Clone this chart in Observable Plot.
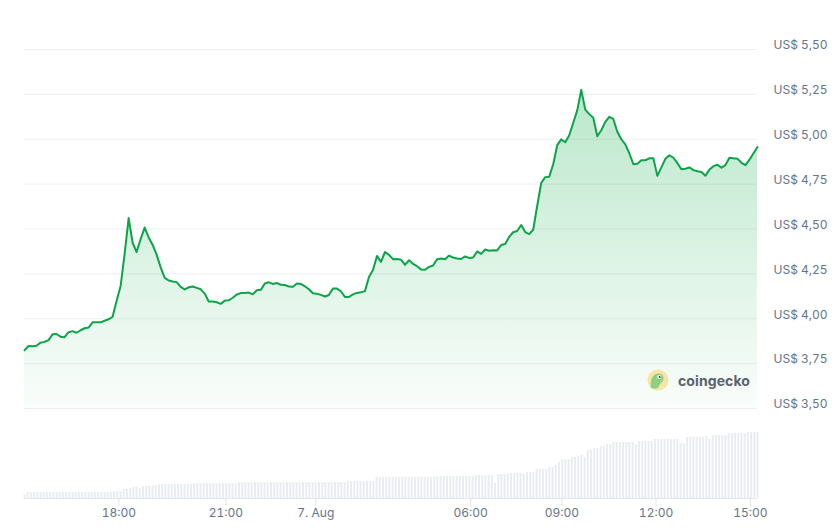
<!DOCTYPE html>
<html><head><meta charset="utf-8">
<script src="https://cdn.jsdelivr.net/npm/d3@7"></script>
<script src="https://cdn.jsdelivr.net/npm/@observablehq/plot@0.6"></script>
<style>
body{margin:0;background:#fff;font-family:Inter,"Noto Sans",sans-serif;}
#wrap{position:relative;width:837px;height:530px;overflow:hidden;background:#fff}
#price{position:absolute;left:0;top:0}
#vol{position:absolute;left:0;top:420px}
#wm{position:absolute;left:647px;top:369px;display:flex;align-items:center;gap:9px;height:22px}
#wm span{font-family:Inter,sans-serif;font-weight:700;font-size:14px;color:#5b616d;letter-spacing:0.1px}
</style></head>
<body>
<div id="wrap">
  <div id="price"></div>
  <div id="vol"></div>
  <div id="wm">
    <svg width="22" height="22" viewBox="0 0 22 22">
      <circle cx="11" cy="11" r="10.5" fill="#f8e4a6"/>
      <path d="M4 19 C3 12 5 5 11 4.5 C15 4.3 17 7 16.5 10 C16 13 13 14 12 17 C11.5 19 9 20.5 4 19 Z" fill="#8dd07e"/>
      <circle cx="12.2" cy="8" r="2" fill="#fff"/>
      <circle cx="12.6" cy="8" r="1" fill="#3a3f47"/>
    </svg>
    <span>coingecko</span>
  </div>
</div>
<script>
// Price (US$), evenly spaced samples over the 24h window
const priceValues = [
  3.824, 3.848, 3.847, 3.850, 3.867, 3.871, 3.881, 3.913, 3.915, 3.900,
  3.897, 3.925, 3.931, 3.922, 3.936, 3.947, 3.951, 3.980, 3.980, 3.980,
  3.989, 3.997, 4.011, 4.100, 4.183, 4.361, 4.561, 4.422, 4.372, 4.444,
  4.508, 4.453, 4.411, 4.356, 4.286, 4.228, 4.213, 4.208, 4.204, 4.178,
  4.163, 4.175, 4.180, 4.172, 4.164, 4.140, 4.096, 4.096, 4.092, 4.083,
  4.101, 4.103, 4.117, 4.135, 4.143, 4.144, 4.146, 4.136, 4.159, 4.161,
  4.196, 4.203, 4.194, 4.199, 4.189, 4.188, 4.179, 4.178, 4.196, 4.194,
  4.181, 4.164, 4.142, 4.139, 4.133, 4.124, 4.132, 4.169, 4.168, 4.153,
  4.121, 4.121, 4.136, 4.144, 4.148, 4.154, 4.233, 4.272, 4.350, 4.317,
  4.372, 4.356, 4.332, 4.333, 4.329, 4.300, 4.326, 4.306, 4.293, 4.275,
  4.273, 4.289, 4.297, 4.331, 4.336, 4.332, 4.352, 4.341, 4.336, 4.333,
  4.347, 4.339, 4.341, 4.375, 4.361, 4.386, 4.379, 4.381, 4.380, 4.411,
  4.416, 4.456, 4.482, 4.489, 4.522, 4.483, 4.471, 4.496, 4.628, 4.756,
  4.789, 4.791, 4.861, 4.967, 4.999, 4.983, 5.022, 5.092, 5.161, 5.275,
  5.165, 5.140, 5.120, 5.017, 5.050, 5.097, 5.125, 5.113, 5.042, 5.000,
  4.971, 4.922, 4.861, 4.863, 4.883, 4.883, 4.894, 4.894, 4.796, 4.843,
  4.891, 4.911, 4.897, 4.867, 4.833, 4.836, 4.843, 4.828, 4.822, 4.817,
  4.797, 4.831, 4.850, 4.858, 4.842, 4.856, 4.897, 4.894, 4.892, 4.869,
  4.856, 4.886, 4.922, 4.957
];

// Volume bars (relative units), evenly spaced over the same window
const volumeValues = [
  4,6,6,6,6,6,6,6,6,6,
  6,6,6,6,6,6,6,6,6,6,
  6,6,6,6,6,6,6,6,7,7,
  7,9,9,10,11,11,10,12,12,12,
  13,13,14,14,14,14,14,14,14,14,
  14,14,14,15,15,15,15,15,15,15,
  15,15,15,15,15,15,15,16,16,16,
  16,16,16,16,16,16,16,16,16,16,
  16,16,16,16,16,16,16,16,16,16,
  16,16,16,16,16,16,16,16,16,16,
  16,17,17,17,17,17,17,17,17,17,
  21,21,21,21,21,21,21,21,21,21,
  21,21,21,21,21,21,21,21,21,22,
  22,22,22,22,22,22,22,22,22,22,
  22,23,23,23,23,23,23,15,24,24,
  24,24,25,25,25,25,24,26,26,26,
  29,29,29,29,31,31,33,36,39,39,
  39,41,41,42,43,41,48,48,50,50,
  52,52,54,54,56,56,56,56,56,56,
  56,54,57,57,57,57,57,59,59,59,
  59,59,59,59,59,55,55,61,61,61,
  61,61,61,62,59,63,63,63,63,63,
  65,65,65,65,65,65,66,66,66,66
];

const yTicks = [3.5, 3.75, 4.0, 4.25, 4.5, 4.75, 5.0, 5.25, 5.5];
const yTickLabels = ["US$ 3,50","US$ 3,75","US$ 4,00","US$ 4,25","US$ 4,50","US$ 4,75","US$ 5,00","US$ 5,25","US$ 5,50"];
// tick positions along the (ordinal) volume bar index
const xTickSlots = [29.5, 62.9, 91.0, 139.4, 167.9, 197.3, 226.8];
const xTickLabels = ["18:00","21:00","7. Aug","06:00","09:00","12:00","15:00"];

const textGray = "#64748b";
const lineGreen = "#0ba548";

const gradientDefs = () => {
  const defs = d3.create("svg:defs");
  const g = defs.append("linearGradient").attr("id","priceFill")
    .attr("x1",0).attr("y1",0).attr("x2",0).attr("y2",1);
  g.append("stop").attr("offset","0%").attr("stop-color","rgb(0,168,62)").attr("stop-opacity",0.27);
  g.append("stop").attr("offset","100%").attr("stop-color","rgb(0,168,62)").attr("stop-opacity",0.02);
  return defs.node();
};

const pricePlot = Plot.plot({
  width: 837, height: 420,
  marginLeft: 24, marginRight: 80, marginTop: 49, marginBottom: 12,
  style: {fontFamily: "Inter, sans-serif", fontSize: "12px", background: "transparent", overflow: "visible"},
  x: {domain: [0, priceValues.length - 1], axis: null},
  y: {domain: [3.5, 5.5]},
  marks: [
    gradientDefs,
    Plot.gridY(yTicks, {stroke: "#eceff3", strokeOpacity: 1}),
    Plot.areaY(priceValues, {x: (d, i) => i, y1: 3.5, y2: d => d, fill: "url(#priceFill)"}),
    Plot.lineY(priceValues, {x: (d, i) => i, y: d => d, stroke: lineGreen, strokeWidth: 2, strokeLinejoin: "round"}),
    Plot.axisY(yTicks, {anchor: "right", tickSize: 0, tickPadding: 16, dy: -4, label: null,
      fill: textGray, fontSize: 12, tickFormat: d => yTickLabels[yTicks.indexOf(d)]})
  ]
});
document.getElementById("price").appendChild(pricePlot);

const volPlot = Plot.plot({
  width: 837, height: 110,
  marginLeft: 24, marginRight: 80, marginTop: 12, marginBottom: 32,
  style: {fontFamily: "Inter, sans-serif", fontSize: "12px", background: "transparent", overflow: "visible"},
  x: {domain: [0, volumeValues.length - 1]},
  y: {domain: [0, 66], axis: null},
  marks: [
    Plot.ruleX(volumeValues, {x: (d, i) => i, y1: 0, y2: d => d, stroke: "#e9ecf0", strokeWidth: 2}),
    Plot.ruleY([0], {stroke: "#e3e6ea"}),
    Plot.axisX(xTickSlots, {tickSize: 8, tickPadding: 2, stroke: "#e1e4e8", fill: textGray, fontSize: 12,
      label: null, tickFormat: d => xTickLabels[xTickSlots.indexOf(d)]})
  ]
});
document.getElementById("vol").appendChild(volPlot);
</script>
</body></html>
